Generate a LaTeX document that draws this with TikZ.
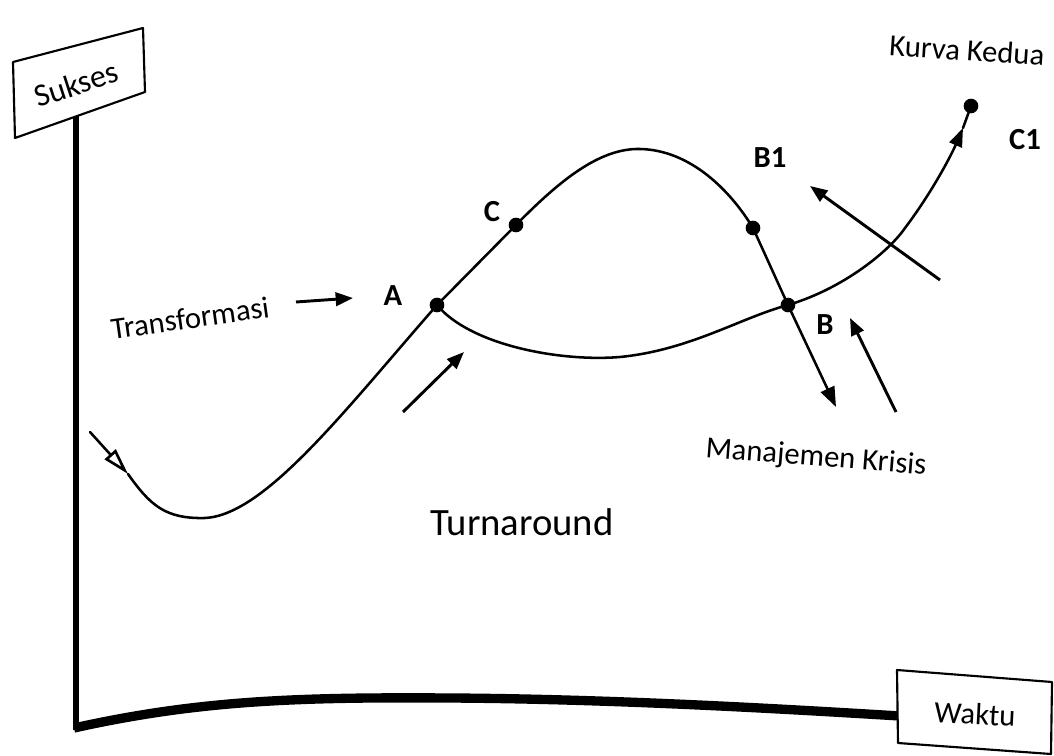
\documentclass[tikz,border=0pt]{standalone}
\usepackage{fontspec}
\setmainfont{Carlito}
\usepackage{xcolor}
\usepackage{tikz}
\usetikzlibrary{arrows.meta,positioning,calc}
\tikzset{
  >={Triangle[length=13pt,width=10pt]},
  dot/.style    ={circle,fill=black,draw=none,minimum size=11pt,inner sep=0pt},
  pt/.style     ={font=\fontsize{23}{26}\selectfont\bfseries,inner sep=1pt},
  lbl/.style    ={font=\fontsize{23}{26}\selectfont,inner sep=1pt},
  curve/.style  ={draw=black,line width=1.9pt,line cap=round},
  flow/.style   ={->,draw=black,line width=2.2pt},
  axis/.style   ={draw=black,line width=4.5pt},
  signbox/.style={draw=black,line width=1.6pt,fill=white,line join=round},
}

\begin{document}
\begin{tikzpicture}[x=0.75pt,y=-0.75pt]
\useasboundingbox (0,0) rectangle (1054,756);
%======================= AXES ===================================
\draw[axis] (76,112) -- (76,730);
\draw[axis,line width=7pt] (74,728) .. controls (200,700) and (300,697) .. (450,698)
  .. controls (620,699) and (800,710) .. (900,716);
\draw[signbox] (13,62) -- (143,28) -- (145,92) -- (15,138) -- cycle;
\node[lbl,font=\fontsize{24}{27}\selectfont,rotate=18] (sukses) at (76,84) {Sukses};
\draw[signbox] (897,670) -- (1052,682) -- (1051,754) -- (898,743) -- cycle;
\node[lbl,rotate=-3] (waktu) at (975,714) {Waktu};
%======================= POINTS =================================
\node[dot] (A)  at (437,305) {};
\node[dot] (C)  at (516,225) {};
\node[dot] (B1) at (753,228) {};
\node[dot] (B)  at (788,305) {};
\node[dot] (C1) at (971,106) {};
\node[pt] (lA)  at (393,296) {A};
\node[pt] (lC)  at (492,212) {C};
\node[pt] (lB1) at (770,158) {B1};
\node[pt] (lB)  at (825,325) {B};
\node[pt] (lC1) at (1025,140) {C1};
%======================= CURVES =================================
\coordinate (s0) at (90,432);
\coordinate (s1) at (128,474);
\coordinate (low) at (205,518);
\coordinate (top) at (640,149);
\coordinate (dn) at (836,407);
\coordinate (cr) at (963,128);
\draw[curve,-{Triangle[open,length=20pt,width=11pt,line width=2pt]}] (s0) -- (s1);
\draw[curve] (s1) .. controls (150,505) and (165,519) .. (low)
  .. controls (265,515) and (345,410) .. (A.center) -- (C.center)
  .. controls (560,180) and (600,148) .. (top)
  .. controls (690,150) and (730,190) .. (B1.center) -- (B.center);
\draw[curve,-{Triangle[length=15pt,width=11pt]}] (B.center) -- (dn);
\draw[curve] (A.center) .. controls (470,345) and (560,362) .. (620,357)
  .. controls (690,350) and (740,318) .. (B.center);
\draw[curve,-{Triangle[length=14pt,width=10pt]}] (B.center) .. controls (845,288) and (890,250) .. (905,228)
  .. controls (930,195) and (950,158) .. (cr);
\draw[curve] (cr) -- (C1.center);
%======================= ARROWS + TEXT ==========================
\node[lbl,rotate=8] (trans) at (190,318) {Transformasi};
\coordinate (t0) at (296,302);
\coordinate (t1) at (353,298);
\draw[flow] (t0) -- (t1);
\coordinate (u0) at (403,412);
\coordinate (u1) at (464,352);
\draw[flow] (u0) -- (u1);
\coordinate (b0) at (940,280);
\coordinate (b1) at (810,186);
\draw[flow] (b0) -- (b1);
\coordinate (k0) at (896,412);
\coordinate (k1) at (850,318);
\draw[flow] (k0) -- (k1);
\node[lbl,rotate=-4.5] (krisis) at (816,458) {Manajemen Krisis};
\node[lbl,rotate=-4] (kedua) at (967,50) {Kurva Kedua};
\node[font=\fontsize{29}{32}\selectfont] (turn) at (522,522) {Turnaround};
\end{tikzpicture}
\end{document}
